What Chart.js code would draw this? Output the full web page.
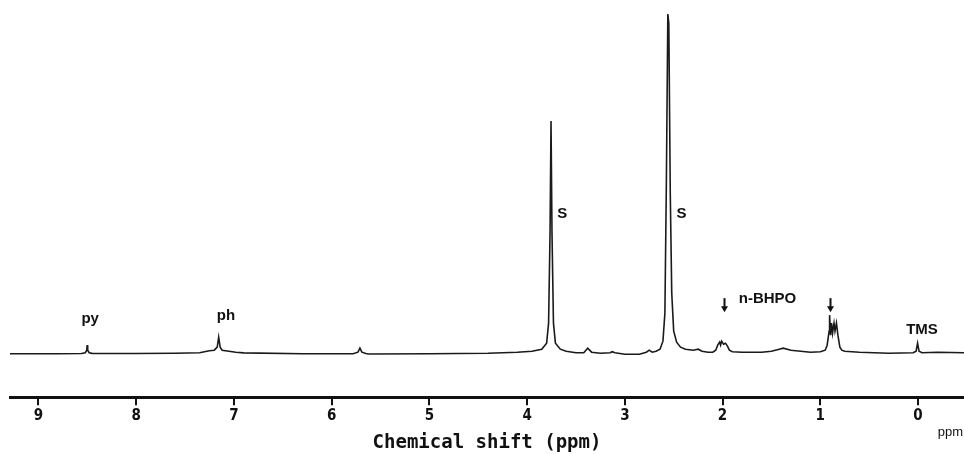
<!DOCTYPE html>
<html>
<head>
<meta charset="utf-8">
<script src="https://cdn.jsdelivr.net/npm/chart.js@4"></script>
<style>
  html, body { margin: 0; padding: 0; background: #fff; }
  #spectrum { display: block; }
</style>
</head>
<body>
<canvas id="spectrum" width="964" height="454"></canvas>
<script>
// 1H NMR spectrum

// chemical shift (ppm) of each sampled point, left to right
const shiftPpm = [
    9.29, 8.80, 8.56, 8.52, 8.505, 8.50, 8.495, 8.48, 8.45, 8.00,
    7.60, 7.35, 7.25, 7.20, 7.17, 7.155, 7.14, 7.12, 7.05, 6.98, 6.90,
    6.30, 5.78, 5.73, 5.71, 5.69, 5.65, 5.62, 5.00, 4.40,
    4.10, 3.95, 3.85, 3.80, 3.78, 3.765, 3.755, 3.745, 3.73, 3.71, 3.66, 3.60, 3.50,
    3.42, 3.38, 3.34, 3.25, 3.15, 3.13, 3.10, 3.00, 2.85, 2.78, 2.75, 2.72,
    2.68, 2.64, 2.61, 2.59, 2.575, 2.56, 2.55, 2.535, 2.52, 2.50, 2.47, 2.43, 2.38,
    2.30, 2.25, 2.21, 2.15, 2.10, 2.07, 2.05, 2.03, 2.02, 2.01, 1.99, 1.97, 1.95, 1.93, 1.90,
    1.80, 1.60, 1.50, 1.42, 1.38, 1.30, 1.20, 1.10, 1.00,
    0.95, 0.93, 0.92, 0.91, 0.905, 0.895, 0.885, 0.875, 0.86, 0.85, 0.835, 0.82, 0.80, 0.78, 0.75,
    0.60, 0.30, 0.05, 0.02, 0.005, -0.01, -0.04, -0.20, -0.47
];

// signal intensity (arbitrary units, 0 = baseline)
const intensity = [
    -0.5, -0.5, -0.3, 0.5, 3, 8, 3, 0.5, -0.2, -0.3,
    0, 0.5, 2.5, 3, 6, 16, 6, 3, 2, 1, 0.3,
    -0.5, -0.5, 1, 5, 1, -0.3, -0.8, -0.5, 0,
    1, 2, 4, 10, 30, 120, 232, 120, 30, 10, 4, 2, 0.5,
    0.5, 5, 1, 0, 0.5, 1.5, 0.5, -1, -1, 1, 3, 1,
    2, 4, 12, 40, 170, 339, 330, 160, 60, 22, 11, 6, 4,
    3, 4, 2, 1, 1, 3, 8, 11, 8, 12, 9, 10, 7, 3, 1.5,
    1, 1, 2, 4, 5, 3, 2, 1, 1.5,
    3, 8, 15, 22, 38, 18, 30, 20, 30, 22, 30, 18, 6, 3, 2,
    1, 0, 0.5, 2, 10, 2, 0.5, 1, 0.5
];

// x axis
const tickValues = [9, 8, 7, 6, 5, 4, 3, 2, 1, 0];
const ppmMin = -0.47;
const ppmMax = 9.29;

// peak assignments: text, shift, height above baseline
const peakLabels = ['py', 'ph', 'S', 'S', 'n-BHPO', 'TMS'];
const peakLabelPpm = [8.47, 7.08, 3.64, 2.42, 1.54, -0.04];
const peakLabelLevel = [34, 37, 139, 139, 54, 23];

// arrows pointing at the n-BHPO signals
const arrowPpm = [1.99, 0.905];

const labelPlugin = {
    id: 'peakLabels',
    afterDatasetsDraw(chart) {
        const ctx = chart.ctx;
        const x = chart.scales.x;
        const y = chart.scales.y;
        ctx.save();
        ctx.fillStyle = '#111';
        ctx.strokeStyle = '#111';
        ctx.font = 'bold 15px "Liberation Sans", Arial, sans-serif';
        ctx.textAlign = 'center';
        ctx.textBaseline = 'middle';
        peakLabels.forEach((t, i) => {
            ctx.fillText(t, x.getPixelForValue(peakLabelPpm[i]), y.getPixelForValue(peakLabelLevel[i]));
        });

        // arrows
        ctx.lineWidth = 2;
        arrowPpm.forEach(p => {
            const px = Math.round(x.getPixelForValue(p)) + 0.5;
            const top = y.getPixelForValue(55);
            const tip = y.getPixelForValue(41);
            ctx.beginPath();
            ctx.moveTo(px, top);
            ctx.lineTo(px, tip - 4);
            ctx.stroke();
            ctx.beginPath();
            ctx.moveTo(px - 3.5, tip - 6);
            ctx.lineTo(px + 3.5, tip - 6);
            ctx.lineTo(px, tip);
            ctx.closePath();
            ctx.fill();
        });

        // unit next to the axis end
        ctx.font = '13px "Liberation Sans", Arial, sans-serif';
        ctx.fillText('ppm', x.getPixelForValue(-0.33), x.bottom - 22);
        ctx.restore();
    }
};

const chart = new Chart(document.getElementById('spectrum').getContext('2d'), {
    type: 'line',
    data: {
        datasets: [{
            data: shiftPpm.map((p, i) => ({ x: p, y: intensity[i] })),
            borderColor: '#1a1a1a',
            borderWidth: 1.6,
            pointRadius: 0,
            tension: 0,
            fill: false
        }]
    },
    options: {
        responsive: false,
        animation: false,
        devicePixelRatio: 1,
        layout: { padding: { left: 10, right: 0, top: 0, bottom: 0 } },
        plugins: {
            legend: { display: false },
            tooltip: { enabled: false }
        },
        scales: {
            x: {
                type: 'linear',
                reverse: true,
                min: ppmMin,
                max: ppmMax,
                afterBuildTicks: s => { s.ticks = tickValues.map(v => ({ value: v })); },
                border: { display: true, color: '#111', width: 3 },
                grid: {
                    drawOnChartArea: false,
                    drawTicks: true,
                    tickLength: 8,
                    color: '#111',
                    lineWidth: 2
                },
                ticks: {
                    color: '#111',
                    padding: 2,
                    maxRotation: 0,
                    font: { family: '"Liberation Sans Narrow", "DejaVu Sans Condensed", sans-serif', size: 15, weight: 'bold' }
                },
                title: {
                    display: true,
                    text: 'Chemical shift (ppm)',
                    color: '#111',
                    padding: { top: 4, bottom: 0 },
                    font: { family: '"DejaVu Sans Mono", monospace', size: 19, weight: 'bold' }
                }
            },
            y: {
                display: false,
                min: -44,
                max: 353
            }
        }
    },
    plugins: [labelPlugin]
});
</script>
</body>
</html>
